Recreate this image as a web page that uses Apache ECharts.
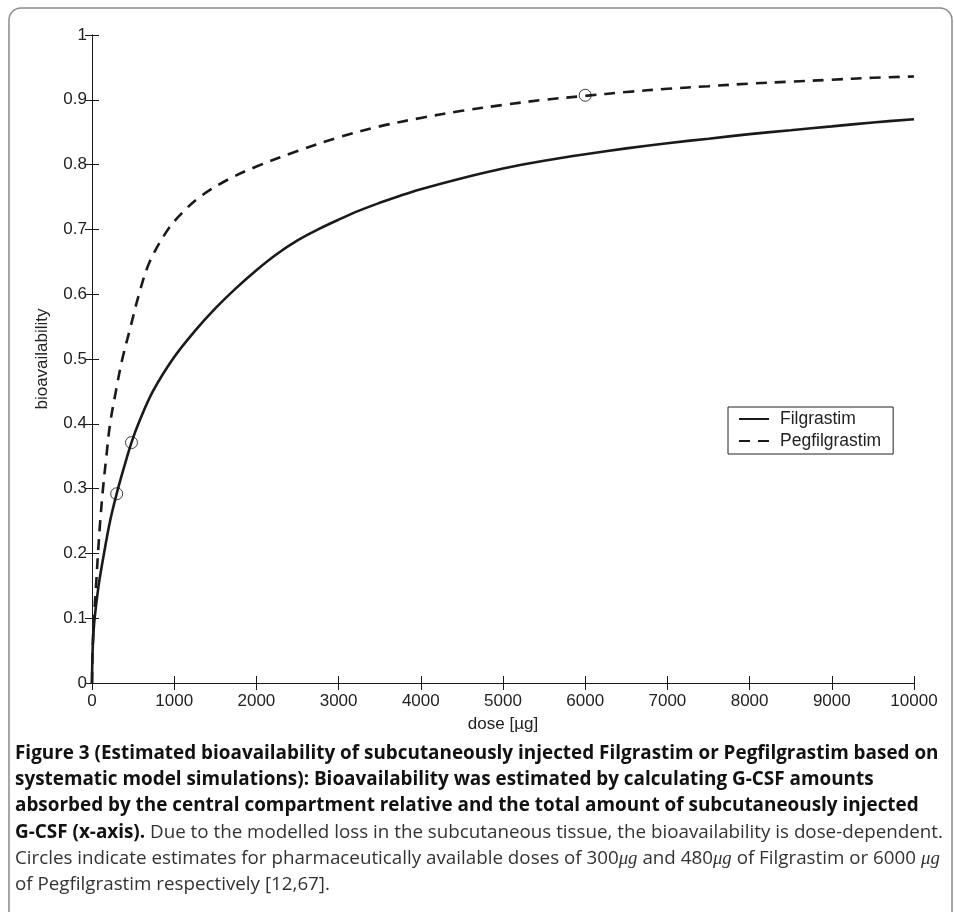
<!DOCTYPE html>
<html>
<head>
<meta charset="utf-8">
<script src="https://cdn.jsdelivr.net/npm/echarts@6/dist/echarts.min.js"></script>
<style>
html,body{margin:0;padding:0;background:#fff;}
#chart{width:954px;height:912px;}
</style>
</head>
<body>
<div id="chart"></div>
<script>
// ---- data ----
const doseFil = [0,5,15,32,80,146,220,300,390,480,580,740,1000,1250,1500,1750,2000,2250,2500,2750,3000,3250,3500,3750,4000,4500,5000,5500,6000,6500,7000,7500,8000,8500,9000,9500,10000];
const bioFil  = [0,0.04,0.07,0.1,0.15,0.2,0.25,0.292,0.333,0.371,0.405,0.45,0.503,0.543,0.578,0.609,0.637,0.662,0.683,0.700,0.715,0.729,0.741,0.752,0.762,0.779,0.794,0.806,0.816,0.825,0.833,0.840,0.847,0.853,0.859,0.865,0.870];
const dosePeg = [0,5,12,24,49,73,100,134,175,220,290,369,470,572,702,925,1100,1310,1655,2000,2500,3000,3500,4000,4500,5000,5500,6000,6500,7000,7500,8000,8500,9000,9500,10000];
const bioPeg  = [0,0.04,0.07,0.1,0.15,0.2,0.25,0.3,0.35,0.4,0.45,0.5,0.55,0.6,0.65,0.7,0.726,0.75,0.777,0.797,0.821,0.842,0.859,0.872,0.883,0.892,0.900,0.906,0.912,0.917,0.921,0.925,0.928,0.931,0.934,0.936];
const circleDoses = [300, 480, 6000];
const circleBio   = [0.292, 0.371, 0.907];
const seriesNames = ['Filgrastim', 'Pegfilgrastim'];
const xTicks = {min: 0, max: 10000, step: 1000};
const yTicks = {min: 0, max: 1, step: 0.1};
const xName = 'dose [\u00b5g]';
const yName = 'bioavailability';

const captionLines = [
  [{t:'Figure 3 (Estimated bioavailability of subcutaneously injected Filgrastim or Pegfilgrastim based on', s:'b'}],
  [{t:'systematic model simulations): Bioavailability was estimated by calculating G-CSF amounts', s:'b'}],
  [{t:'absorbed by the central compartment relative and the total amount of subcutaneously injected', s:'b'}],
  [{t:'G-CSF (x-axis).', s:'b'}, {t:' Due to the modelled loss in the subcutaneous tissue, the bioavailability is dose-dependent.', s:'n'}],
  [{t:'Circles indicate estimates for pharmaceutically available doses of 300', s:'n'}, {t:'\u03bcg', s:'i'}, {t:' and 480', s:'n'}, {t:'\u03bcg', s:'i'}, {t:' of Filgrastim or 6000 ', s:'n'}, {t:'\u03bcg', s:'i'}],
  [{t:'of Pegfilgrastim respectively [12,67].', s:'n'}]
];

// ---- build ----
const filData = doseFil.map((d, i) => [d, bioFil[i]]);
const pegData = dosePeg.map((d, i) => [d, bioPeg[i]]);
const circData = circleDoses.map((d, i) => [d, circleBio[i]]);

const AX = '#1a1a1a';
const capFont = '"Open Sans", sans-serif';
const capB = 18.9, capN = 18.8;
const rich = {
  b: {fontFamily: capFont, fontSize: capB, fontWeight: 'bold', fill: '#111', color: '#111'},
  n: {fontFamily: capFont, fontSize: capN, fontWeight: 'normal', fill: '#333', color: '#333'},
  i: {fontFamily: 'Liberation Serif, serif', fontSize: capN, fontStyle: 'italic', fill: '#333', color: '#333'}
};
const captionGraphics = captionLines.map((line, k) => ({
  type: 'text',
  left: 15,
  top: 744 + k * 26.3,
  silent: true,
  style: {
    text: line.map(p => '{' + p.s + '|' + p.t + '}').join(''),
    rich: rich,
    font: capN + 'px ' + capFont
  }
}));

const chart = echarts.init(document.getElementById('chart'), null, {renderer: 'canvas'});

const labelFont = 'Liberation Sans, Arial, sans-serif';
const axisCommon = {
  type: 'value',
  axisLine: {show: true, lineStyle: {color: AX, width: 1}},
  axisTick: {show: true, inside: true, length: 7, lineStyle: {color: AX, width: 1}},
  splitLine: {show: false},
  axisLabel: {color: '#222', fontSize: 17, fontFamily: labelFont}
};

chart.setOption({
  animation: false,
  backgroundColor: '#fff',
  grid: {left: 92, top: 35, right: 40, bottom: 229, containLabel: false},
  legend: {
    data: seriesNames,
    orient: 'vertical',
    left: 728,
    top: 407,
    padding: [3, 12, 4, 10],
    itemGap: 4,
    itemWidth: 30,
    itemHeight: 18,
    backgroundColor: '#fff',
    borderColor: '#222',
    borderWidth: 1,
    borderRadius: 0,
    itemStyle: {opacity: 0},
    textStyle: {fontSize: 17.5, color: '#222', fontFamily: labelFont, padding: [0, 0, 0, 6]}
  },
  xAxis: [
    Object.assign({}, axisCommon, {
      min: xTicks.min, max: xTicks.max, interval: xTicks.step,
      name: xName, nameLocation: 'middle', nameGap: 33,
      nameTextStyle: {color: '#222', fontSize: 17, fontFamily: labelFont},
      axisLabel: Object.assign({}, axisCommon.axisLabel, {margin: 10, formatter: v => String(v)})
    }),
    Object.assign({}, axisCommon, {
      position: 'top', min: xTicks.min, max: xTicks.max, interval: xTicks.step,
      axisLabel: {show: false}
    })
  ],
  yAxis: [
    Object.assign({}, axisCommon, {
      min: yTicks.min, max: yTicks.max, interval: yTicks.step,
      name: yName, nameLocation: 'middle', nameGap: 41, nameRotate: 90,
      nameTextStyle: {color: '#222', fontSize: 17, fontFamily: labelFont},
      axisLabel: Object.assign({}, axisCommon.axisLabel, {
        margin: 5,
        formatter: v => (Math.round(v * 10) / 10).toString()
      })
    }),
    Object.assign({}, axisCommon, {
      position: 'right', min: yTicks.min, max: yTicks.max, interval: yTicks.step,
      axisLabel: {show: false}
    })
  ],
  series: [
    {
      name: seriesNames[0], type: 'line', data: filData,
      symbol: 'none', smooth: 0.35,
      lineStyle: {color: '#1a1a1a', width: 2.6, type: 'solid'},
      itemStyle: {color: '#1a1a1a'},
      z: 3
    },
    {
      name: seriesNames[1], type: 'line', data: pegData,
      symbol: 'none', smooth: 0.35,
      lineStyle: {color: '#1a1a1a', width: 2.6, type: [11, 8]},
      itemStyle: {color: '#1a1a1a'},
      z: 3
    },
    {
      name: 'circles', type: 'scatter', data: circData,
      symbol: 'circle', symbolSize: 12,
      itemStyle: {color: 'rgba(0,0,0,0)', borderColor: '#111', borderWidth: 1},
      z: 4, silent: true
    }
  ],
  graphic: [
    {
      type: 'rect', silent: true, z: -1,
      shape: {x: 9, y: 8, width: 943, height: 960, r: 12},
      style: {fill: 'none', stroke: '#8a8a8a', lineWidth: 1.5}
    }
  ].concat(captionGraphics)
});
</script>
</body>
</html>
